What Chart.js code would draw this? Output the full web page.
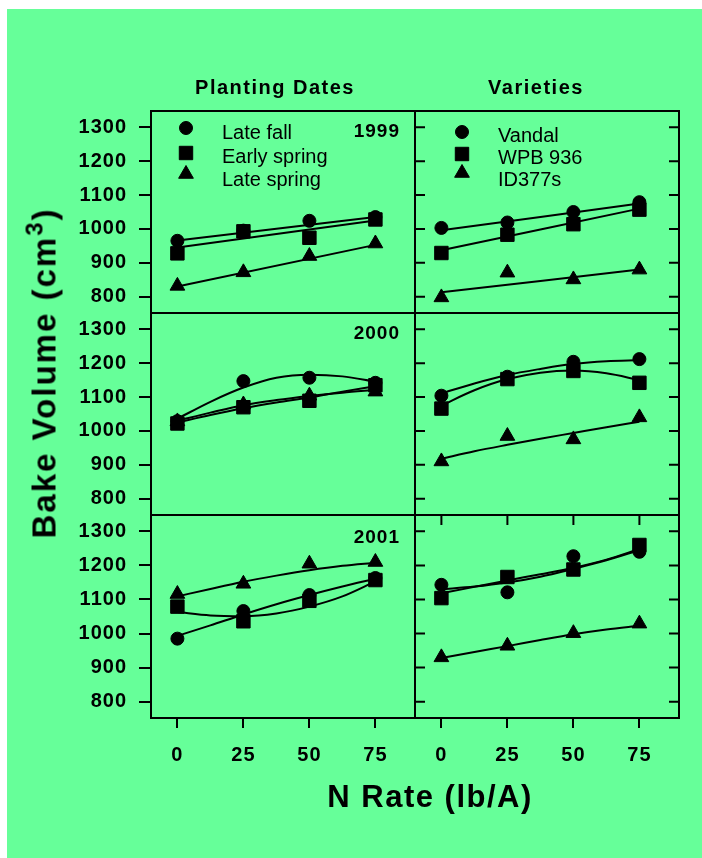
<!DOCTYPE html>
<html><head><meta charset="utf-8">
<script src="https://cdn.jsdelivr.net/npm/chart.js@4/dist/chart.umd.min.js"></script>
<style>
html,body{margin:0;padding:0;background:#fff;}
#wrap{position:relative;width:702px;height:858px;overflow:hidden;background:#fff;font-family:'Liberation Sans',Arial,sans-serif;color:#000;}
#bg{position:absolute;left:7px;top:9px;width:695px;height:849px;background:#66FF99;}
canvas{position:absolute;left:0;top:0;}
.t{position:absolute;white-space:nowrap;line-height:1;}
.col{font-weight:bold;font-size:20px;letter-spacing:1.5px;transform:translate(-50%,-50%);}
.yr{font-weight:bold;font-size:19px;letter-spacing:1px;transform:translate(-100%,-50%);}
.leg{font-size:20px;transform:translate(0,-50%);}
.ax{font-weight:bold;font-size:31px;letter-spacing:1.5px;}
.ay{font-weight:bold;font-size:33px;letter-spacing:2px;}
.ay sup{font-size:0.72em;line-height:0;vertical-align:0.55em;}
</style>
</head><body>
<div id="wrap">
<div id="bg"></div>
<canvas id="c1" width="702" height="858"></canvas>
<canvas id="c2" width="702" height="858"></canvas>
<canvas id="c3" width="702" height="858"></canvas>
<canvas id="c4" width="702" height="858"></canvas>
<canvas id="c5" width="702" height="858"></canvas>
<canvas id="c6" width="702" height="858"></canvas>
<div class="t col" style="left:275px;top:87px">Planting Dates</div>
<div class="t col" style="left:536px;top:87px">Varieties</div>
<div class="t yr" style="left:400px;top:130px">1999</div>
<div class="t yr" style="left:400px;top:332px">2000</div>
<div class="t yr" style="left:400px;top:536px">2001</div>
<div class="t leg" style="left:222px;top:132px">Late fall</div>
<div class="t leg" style="left:222px;top:156px">Early spring</div>
<div class="t leg" style="left:222px;top:179px">Late spring</div>
<div class="t leg" style="left:498px;top:135px">Vandal</div>
<div class="t leg" style="left:498px;top:157px">WPB 936</div>
<div class="t leg" style="left:498px;top:179px">ID377s</div>
<div class="t ax" style="left:430px;top:796px;transform:translate(-50%,-50%)">N Rate (lb/A)</div>
<div class="t ay" style="left:44px;top:373px;transform:translate(-50%,-50%) rotate(-90deg)">Bake Volume (cm<sup>3</sup>)</div>
</div>
<script>
// ---- tick values / categories ----
const nRate = [0, 25, 50, 75];
const fitRate = [0, 12.5, 25, 37.5, 50, 62.5, 75];
const lineRate = [0, 75];
const xTickValues = [0, 25, 50, 75];
const yTickValues = [800, 900, 1000, 1100, 1200, 1300];
const plantingLabels = ['Late fall', 'Early spring', 'Late spring'];
const varietyLabels = ['Vandal', 'WPB 936', 'ID377s'];

// ---- 1999 ----
const lateFall1999 = [965, 995, 1024, 1035];
const earlySpring1999 = [928, 993, 974, 1028];
const lateSpring1999 = [832, 872, 920, 957];
const lateFall1999Fit = [966, 1035];
const earlySpring1999Fit = [945, 1025];
const lateSpring1999Fit = [830, 953];
const vandal1999 = [1003, 1019, 1050, 1079];
const wpb1999 = [929, 983, 1014, 1057];
const id377s1999 = [798, 871, 851, 880];
const vandal1999Fit = [996, 1075];
const wpb1999Fit = [937, 1060];
const id377s1999Fit = [813, 880];

// ---- 2000 ----
const lateFall2000 = [1029, 1147, 1157, 1142];
const earlySpring2000 = [1022, 1070, 1089, 1135];
const lateSpring2000 = [1028, 1078, 1104, 1116];
const lateFall2000Fit = [1036, 1086, 1128, 1157, 1166, 1161, 1145];
const earlySpring2000Fit = [1025, 1047, 1067, 1084, 1099, 1116, 1132];
const lateSpring2000Fit = [1030, 1054, 1076, 1091, 1103, 1113, 1121];
const vandal2000 = [1104, 1160, 1204, 1212];
const wpb2000 = [1066, 1153, 1177, 1142];
const id377s2000 = [910, 985, 975, 1040];
const vandal2000Fit = [1111, 1140, 1165, 1183, 1198, 1206, 1209];
const wpb2000Fit = [1075, 1120, 1153, 1172, 1178, 1170, 1150];
const id377s2000Fit = [918, 940, 959, 977, 994, 1011, 1027];

// ---- 2001 ----
const lateFall2001 = [985, 1066, 1113, 1163];
const earlySpring2001 = [1079, 1036, 1096, 1157];
const lateSpring2001 = [1116, 1146, 1205, 1210];
const lateFall2001Fit = [993, 1024, 1056, 1086, 1113, 1138, 1161];
const earlySpring2001Fit = [1063, 1053, 1051, 1059, 1079, 1109, 1153];
const lateSpring2001Fit = [1109, 1131, 1152, 1170, 1186, 1199, 1208];
const vandal2001 = [1143, 1121, 1227, 1240];
const wpb2001 = [1104, 1166, 1188, 1260];
const id377s2001 = [930, 964, 1001, 1029];
const vandal2001Fit = [1130, 1138, 1150, 1167, 1190, 1215, 1245];
const wpb2001Fit = [1118, 1137, 1156, 1174, 1193, 1217, 1248];
const id377s2001Fit = [928, 946, 963, 981, 998, 1012, 1023];

const styles = ['circle', 'rect', 'triangle'];
const R = {circle: 6.5, rect: 9.5, triangle: 8.5};
const FONT = {family: "'Liberation Sans', Arial, sans-serif", size: 20, weight: 'bold'};

function makePanel(id, rect, labels, obs, fitX, fits, o) {
  const datasets = [];
  labels.forEach((lab, i) => datasets.push({
    label: lab, data: nRate.map((x, j) => ({x: x, y: obs[i][j]})), showLine: false,
    pointStyle: styles[i], pointRadius: R[styles[i]], pointHoverRadius: R[styles[i]],
    backgroundColor: '#000', borderColor: '#000', borderWidth: 1
  }));
  labels.forEach((lab, i) => datasets.push({
    label: lab + ' fit', data: fitX.map((x, j) => ({x: x, y: fits[i][j]})), showLine: true,
    pointRadius: 0, borderColor: '#000', borderWidth: 2, fill: false,
    cubicInterpolationMode: 'monotone'
  }));
  const yW = o.yLabels ? 90 : 0, xH = o.xLabels ? 60 : 0;
  const decor = {
    id: 'decor' + id,
    beforeDraw(chart) { chart.ctx.letterSpacing = '1px'; },
    afterDraw(chart) {
      const ctx = chart.ctx, a = chart.chartArea;
      ctx.save();
      ctx.letterSpacing = '0px';
      ctx.strokeStyle = '#000'; ctx.fillStyle = '#000'; ctx.lineWidth = 2;
      if (o.inY) {
        const ys = chart.scales.y;
        ys.ticks.forEach(t => {
          const p = ys.getPixelForValue(t.value);
          ctx.beginPath();
          ctx.moveTo(a.left, p); ctx.lineTo(a.left + 10, p);
          ctx.moveTo(a.right, p); ctx.lineTo(a.right - 10, p);
          ctx.stroke();
        });
      }
      if (o.inTopX) {
        const xs = chart.scales.x;
        xs.ticks.forEach(t => {
          const p = xs.getPixelForValue(t.value);
          ctx.beginPath(); ctx.moveTo(p, a.top); ctx.lineTo(p, a.top + 10); ctx.stroke();
        });
      }
      ctx.strokeRect(a.left, a.top, a.right - a.left, a.bottom - a.top);
      if (o.legend) {
        ctx.lineWidth = 1;
        styles.forEach((st, i) => {
          Chart.helpers.drawPoint(ctx, {pointStyle: st, radius: R[st], borderWidth: 1, rotation: 0},
            a.left + o.legend.x, a.top + o.legend.y[i]);
        });
      }
      ctx.restore();
    }
  };
  new Chart(document.getElementById(id), {
    type: 'scatter',
    data: {datasets: datasets},
    options: {
      responsive: false, animation: false, devicePixelRatio: 1, events: [],
      layout: {padding: {left: rect.l - yW, top: rect.t, right: 702 - rect.r, bottom: 858 - rect.b - xH}},
      plugins: {legend: {display: false}, tooltip: {enabled: false}},
      scales: {
        x: {
          type: 'linear', min: -10, max: 90,
          afterBuildTicks: s => { s.ticks = xTickValues.map(v => ({value: v})); },
          afterFit: s => { s.height = xH; },
          grid: {display: !!o.xLabels, drawOnChartArea: false, drawTicks: true, tickLength: 10, color: '#000', lineWidth: 2},
          border: {display: false},
          ticks: {display: !!o.xLabels, padding: 15, font: FONT, color: '#000', maxRotation: 0, autoSkip: false,
                  callback: v => String(v)}
        },
        y: {
          type: 'linear', min: 752, max: 1348,
          afterBuildTicks: s => { s.ticks = yTickValues.map(v => ({value: v})); },
          afterFit: s => { s.width = yW; },
          grid: {display: !!o.yLabels, drawOnChartArea: false, drawTicks: true, tickLength: 12, color: '#000', lineWidth: 2},
          border: {display: false},
          ticks: {display: !!o.yLabels, padding: 12, font: FONT, color: '#000', autoSkip: false,
                  callback: v => String(v)}
        }
      }
    },
    plugins: [decor]
  });
}

const L = 151, M = 415, Rt = 679;
const rows = [[111, 313], [313, 515], [515, 718]];
const legL = {x: 35, y: [17, 42, 63]};
const legR = {x: 47, y: [21, 43, 62]};

makePanel('c1', {l: L, r: M, t: rows[0][0], b: rows[0][1]}, plantingLabels,
  [lateFall1999, earlySpring1999, lateSpring1999], lineRate,
  [lateFall1999Fit, earlySpring1999Fit, lateSpring1999Fit], {yLabels: true, legend: legL});
makePanel('c2', {l: M, r: Rt, t: rows[0][0], b: rows[0][1]}, varietyLabels,
  [vandal1999, wpb1999, id377s1999], lineRate,
  [vandal1999Fit, wpb1999Fit, id377s1999Fit], {inY: true, legend: legR});
makePanel('c3', {l: L, r: M, t: rows[1][0], b: rows[1][1]}, plantingLabels,
  [lateFall2000, earlySpring2000, lateSpring2000], fitRate,
  [lateFall2000Fit, earlySpring2000Fit, lateSpring2000Fit], {yLabels: true});
makePanel('c4', {l: M, r: Rt, t: rows[1][0], b: rows[1][1]}, varietyLabels,
  [vandal2000, wpb2000, id377s2000], fitRate,
  [vandal2000Fit, wpb2000Fit, id377s2000Fit], {inY: true});
makePanel('c5', {l: L, r: M, t: rows[2][0], b: rows[2][1]}, plantingLabels,
  [lateFall2001, earlySpring2001, lateSpring2001], fitRate,
  [lateFall2001Fit, earlySpring2001Fit, lateSpring2001Fit], {yLabels: true, xLabels: true});
makePanel('c6', {l: M, r: Rt, t: rows[2][0], b: rows[2][1]}, varietyLabels,
  [vandal2001, wpb2001, id377s2001], fitRate,
  [vandal2001Fit, wpb2001Fit, id377s2001Fit], {inY: true, inTopX: true, xLabels: true});
</script>
</body></html>
